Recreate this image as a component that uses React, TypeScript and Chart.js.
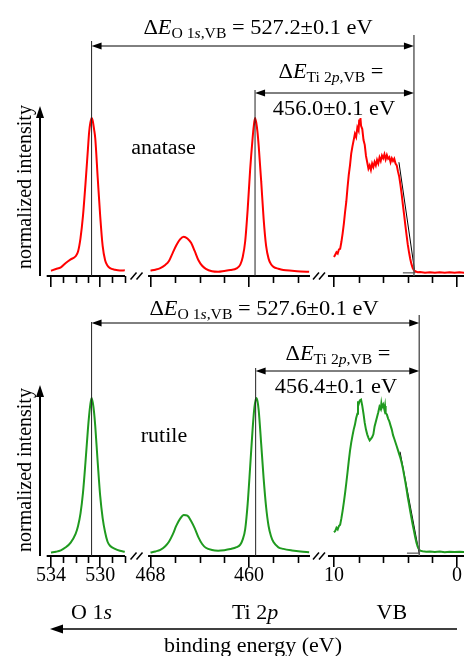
import React, { useEffect, useRef } from 'react';
import { Chart, registerables } from 'chart.js';
Chart.register(...registerables);

const SERIF = '"Liberation Serif", "Times New Roman", serif';

// ---------- data: anatase (top) ----------
const O1S_E_ANATASE = [534.0, 533.6, 533.2, 532.8, 532.4, 532.0, 531.8, 531.6, 531.4, 531.2, 531.0, 530.9, 530.8, 530.7, 530.6, 530.5, 530.4, 530.2, 530.0, 529.8, 529.6, 529.4, 529.2, 528.8, 528.4, 528.0];
const O1S_I_ANATASE = [0.033, 0.044, 0.055, 0.082, 0.105, 0.125, 0.155, 0.24, 0.38, 0.58, 0.80, 0.91, 0.97, 1.0, 0.98, 0.93, 0.87, 0.62, 0.38, 0.19, 0.10, 0.065, 0.05, 0.04, 0.035, 0.036];

const TI_E_ANATASE = [468.0, 467.6, 467.2, 466.8, 466.5, 466.2, 465.9, 465.6, 465.3, 465.0, 464.7, 464.4, 464.1, 463.8, 463.5, 463.0, 462.5, 462.0, 461.5, 461.0, 460.7, 460.5, 460.3, 460.1, 459.9, 459.7, 459.6, 459.5, 459.4, 459.3, 459.2, 459.0, 458.8, 458.6, 458.4, 458.2, 458.0, 457.6, 457.2, 456.5, 455.8, 455.1];
const TI_I_ANATASE = [0.034, 0.04, 0.05, 0.07, 0.095, 0.145, 0.195, 0.232, 0.249, 0.238, 0.21, 0.157, 0.10, 0.065, 0.045, 0.03, 0.027, 0.032, 0.038, 0.048, 0.072, 0.12, 0.22, 0.42, 0.67, 0.87, 0.95, 1.0, 0.97, 0.91, 0.82, 0.60, 0.36, 0.19, 0.11, 0.075, 0.058, 0.046, 0.038, 0.033, 0.029, 0.027];

const VB_E_ANATASE = [10.0, 9.9, 9.8, 9.7, 9.6, 9.5, 9.4, 9.3, 9.2, 9.1, 9.0, 8.9, 8.8, 8.7, 8.6, 8.5, 8.4, 8.3, 8.2, 8.1, 8.0, 7.95, 7.9, 7.85, 7.8, 7.7, 7.6, 7.5, 7.4, 7.3, 7.2, 7.1, 7.0, 6.9, 6.8, 6.7, 6.6, 6.5, 6.4, 6.3, 6.2, 6.1, 6.0, 5.9, 5.8, 5.7, 5.6, 5.5, 5.4, 5.3, 5.2, 5.1, 5.0, 4.9, 4.8, 4.7, 4.6, 4.5, 4.4, 4.3, 4.2, 4.1, 4.0, 3.9, 3.8, 3.7, 3.6, 3.5, 3.4, 3.2, 3.0, 2.6, 2.2, 1.8, 1.4, 1.0, 0.6, 0.2, -0.2, -0.6];
const VB_I_ANATASE = [0.120, 0.135, 0.150, 0.142, 0.168, 0.172, 0.215, 0.268, 0.330, 0.405, 0.470, 0.560, 0.640, 0.700, 0.775, 0.820, 0.860, 0.900, 0.880, 0.940, 0.920, 0.990, 0.960, 1.0, 0.950, 0.930, 0.860, 0.830, 0.760, 0.720, 0.680, 0.700, 0.672, 0.712, 0.690, 0.722, 0.700, 0.735, 0.712, 0.750, 0.728, 0.762, 0.745, 0.770, 0.738, 0.765, 0.742, 0.752, 0.720, 0.745, 0.728, 0.742, 0.712, 0.700, 0.662, 0.630, 0.578, 0.520, 0.452, 0.388, 0.322, 0.258, 0.198, 0.150, 0.108, 0.075, 0.050, 0.036, 0.030, 0.024, 0.026, 0.021, 0.024, 0.020, 0.023, 0.021, 0.024, 0.020, 0.023, 0.021];

const FIT_E_ANATASE = [4.72, 3.42];
const FIT_I_ANATASE = [0.72, 0.02];
const BASE_E_ANATASE = [4.4, 3.4];
const BASE_I_ANATASE = [0.02, 0.02];

// ---------- data: rutile (bottom) ----------
const O1S_E_RUTILE = [534.0, 533.6, 533.2, 532.8, 532.4, 532.0, 531.8, 531.6, 531.4, 531.2, 531.0, 530.9, 530.8, 530.7, 530.6, 530.5, 530.4, 530.2, 530.0, 529.8, 529.6, 529.4, 529.2, 528.8, 528.4, 528.0];
const O1S_I_RUTILE = [0.022, 0.027, 0.036, 0.055, 0.085, 0.14, 0.19, 0.27, 0.40, 0.59, 0.80, 0.89, 0.96, 1.0, 0.97, 0.91, 0.82, 0.59, 0.38, 0.24, 0.15, 0.09, 0.065, 0.045, 0.033, 0.027];

const TI_E_RUTILE = [468.0, 467.6, 467.2, 466.8, 466.5, 466.2, 465.9, 465.6, 465.3, 465.0, 464.7, 464.4, 464.1, 463.8, 463.5, 463.0, 462.5, 462.0, 461.5, 461.0, 460.7, 460.5, 460.3, 460.1, 459.9, 459.7, 459.55, 459.4, 459.3, 459.2, 459.0, 458.8, 458.6, 458.4, 458.2, 458.0, 457.6, 457.2, 456.5, 455.8, 455.1];
const TI_I_RUTILE = [0.022, 0.029, 0.039, 0.062, 0.09, 0.135, 0.192, 0.235, 0.26, 0.255, 0.222, 0.175, 0.118, 0.076, 0.052, 0.038, 0.034, 0.037, 0.044, 0.056, 0.072, 0.105, 0.17, 0.33, 0.56, 0.80, 0.94, 1.0, 0.98, 0.92, 0.71, 0.49, 0.31, 0.19, 0.125, 0.088, 0.055, 0.045, 0.035, 0.028, 0.024];

const VB_E_RUTILE = [10.0, 9.9, 9.8, 9.7, 9.6, 9.5, 9.4, 9.3, 9.2, 9.1, 9.0, 8.9, 8.8, 8.7, 8.6, 8.5, 8.4, 8.3, 8.2, 8.1, 8.05, 8.0, 7.9, 7.8, 7.7, 7.6, 7.5, 7.4, 7.3, 7.2, 7.1, 7.0, 6.9, 6.8, 6.7, 6.6, 6.5, 6.4, 6.3, 6.2, 6.15, 6.1, 6.0, 5.9, 5.85, 5.8, 5.7, 5.6, 5.5, 5.4, 5.3, 5.2, 5.1, 5.0, 4.9, 4.8, 4.7, 4.6, 4.5, 4.4, 4.3, 4.2, 4.1, 4.0, 3.9, 3.8, 3.7, 3.6, 3.5, 3.4, 3.3, 3.2, 3.1, 3.0, 2.8, 2.5, 2.2, 1.8, 1.4, 1.0, 0.6, 0.2, -0.2, -0.6];
const VB_I_RUTILE = [0.150, 0.158, 0.178, 0.168, 0.190, 0.198, 0.238, 0.285, 0.340, 0.398, 0.462, 0.530, 0.600, 0.665, 0.718, 0.760, 0.800, 0.830, 0.872, 0.900, 0.980, 0.960, 0.985, 0.990, 0.950, 0.900, 0.842, 0.800, 0.770, 0.748, 0.732, 0.742, 0.752, 0.770, 0.820, 0.850, 0.880, 0.910, 0.945, 0.930, 0.965, 0.940, 0.958, 0.925, 0.950, 0.905, 0.895, 0.870, 0.852, 0.825, 0.800, 0.765, 0.742, 0.718, 0.695, 0.670, 0.645, 0.620, 0.590, 0.555, 0.512, 0.470, 0.422, 0.372, 0.328, 0.282, 0.240, 0.198, 0.160, 0.120, 0.085, 0.060, 0.044, 0.034, 0.030, 0.027, 0.029, 0.025, 0.028, 0.024, 0.027, 0.025, 0.027, 0.025];

const FIT_E_RUTILE = [4.63, 3.08];
const FIT_I_RUTILE = [0.66, 0.02];
const BASE_E_RUTILE = [4.07, 3.0];
const BASE_I_RUTILE = [0.018, 0.018];

// ---------- reference energies / annotations ----------
const SAMPLES = ['anatase', 'rutile'];
const O1S_PEAK = [530.7, 530.7];
const TI_PEAK = [459.5, 459.45];
const VB_MAX = [3.5, 3.07];
const DELTA_O1S_VB = [527.2, 527.6];
const DELTA_TI_VB = [456.0, 456.4];
const DELTA_ERR = 0.1;

// ---------- broken x axis (binding energy, eV) ----------
const SEG_O = { ref: 534, offset: 0, hi: 534.35, lo: 527.98 };
const SEG_TI = { ref: 468, offset: 8.09, hi: 468.2, lo: 455.03 };
const SEG_VB = { ref: 10, offset: 23.01, hi: 10.49, lo: -0.6 };
const toV = (seg: any, e: number) => seg.offset + (seg.ref - e);

const O1S_MAJOR = [534, 530];
const O1S_MINOR = [533, 532, 531, 529, 528];
const TI_MAJOR = [468, 460];
const TI_MINOR = [466, 464, 462, 458, 456];
const VB_MAJOR = [10, 0];
const VB_MINOR = [8, 6, 4, 2];
const REGION_LABELS = [
  [{ t: 'O 1' }, { t: 's', it: true }],
  [{ t: 'Ti 2' }, { t: 'p', it: true }],
  [{ t: 'VB' }],
];
const REGION_LABEL_E = [530.7, 459.5, 5.3];

const V_MIN = -0.894;
const V_MAX = 33.58;

const MAJOR_TICKS = [
  ...O1S_MAJOR.map((e) => ({ v: toV(SEG_O, e), label: String(e) })),
  ...TI_MAJOR.map((e) => ({ v: toV(SEG_TI, e), label: String(e) })),
  ...VB_MAJOR.map((e) => ({ v: toV(SEG_VB, e), label: String(e) })),
];
const MINOR_TICKS = [
  ...O1S_MINOR.map((e) => toV(SEG_O, e)),
  ...TI_MINOR.map((e) => toV(SEG_TI, e)),
  ...VB_MINOR.map((e) => toV(SEG_VB, e)),
];

type Run = { t: string; it?: boolean; sub?: boolean };

function drawRuns(ctx: CanvasRenderingContext2D, runs: Run[], cx: number, baseline: number, size: number, sx: number) {
  const fontFor = (r: Run) => `${r.it ? 'italic ' : ''}${r.sub ? Math.round(size * 0.7) : size}px ${SERIF}`;
  let w = 0;
  for (const r of runs) {
    ctx.font = fontFor(r);
    w += ctx.measureText(r.t).width;
  }
  ctx.save();
  ctx.translate(cx, baseline);
  ctx.scale(sx, 1);
  ctx.textAlign = 'left';
  ctx.textBaseline = 'alphabetic';
  ctx.fillStyle = '#000';
  let x = -w / 2;
  for (const r of runs) {
    ctx.font = fontFor(r);
    ctx.fillText(r.t, x, r.sub ? size * 0.22 : 0);
    x += ctx.measureText(r.t).width;
  }
  ctx.restore();
}

function hArrow(ctx: CanvasRenderingContext2D, x1: number, x2: number, y: number, head: number, half: number, lw: number, left: boolean, right: boolean) {
  ctx.save();
  ctx.strokeStyle = '#000';
  ctx.fillStyle = '#000';
  ctx.lineWidth = lw;
  ctx.beginPath();
  ctx.moveTo(x1 + (left ? head * 0.6 : 0), y);
  ctx.lineTo(x2 - (right ? head * 0.6 : 0), y);
  ctx.stroke();
  if (left) {
    ctx.beginPath();
    ctx.moveTo(x1, y);
    ctx.lineTo(x1 + head, y - half);
    ctx.lineTo(x1 + head, y + half);
    ctx.closePath();
    ctx.fill();
  }
  if (right) {
    ctx.beginPath();
    ctx.moveTo(x2, y);
    ctx.lineTo(x2 - head, y - half);
    ctx.lineTo(x2 - head, y + half);
    ctx.closePath();
    ctx.fill();
  }
  ctx.restore();
}

function vLine(ctx: CanvasRenderingContext2D, x: number, y1: number, y2: number, color: string, lw: number) {
  ctx.save();
  ctx.strokeStyle = color;
  ctx.lineWidth = lw;
  ctx.beginPath();
  ctx.moveTo(x, y1);
  ctx.lineTo(x, y2);
  ctx.stroke();
  ctx.restore();
}

const PANEL_TOP = {
  idx: 0, color: '#ff0000', height: 290, padTop: 118, axisH: 14, showLabels: false,
  o: [O1S_E_ANATASE, O1S_I_ANATASE], ti: [TI_E_ANATASE, TI_I_ANATASE], vb: [VB_E_ANATASE, VB_I_ANATASE],
  fit: [FIT_E_ANATASE, FIT_I_ANATASE], base: [BASE_E_ANATASE, BASE_I_ANATASE],
  pos: { titleY: 34, titleX: 258, arrow1Y: 46, tiLabelY: 78, tiLabelX: 331, arrow2Y: 93, tiValY: 115, tiValX: 334,
    sampleX: 163.5, sampleY: 154, yArrowTop: 106, yLabelY: 187, oLineTop: 41, tiLineTop: 90, vbLineTop: 35 },
  footer: null as any,
};

const PANEL_BOTTOM = {
  idx: 1, color: '#1f9a1f', height: 366, padTop: 108, axisH: 100, showLabels: true,
  o: [O1S_E_RUTILE, O1S_I_RUTILE], ti: [TI_E_RUTILE, TI_I_RUTILE], vb: [VB_E_RUTILE, VB_I_RUTILE],
  fit: [FIT_E_RUTILE, FIT_I_RUTILE], base: [BASE_E_RUTILE, BASE_I_RUTILE],
  pos: { titleY: 25, titleX: 264, arrow1Y: 33, tiLabelY: 70, tiLabelX: 338, arrow2Y: 81, tiValY: 103, tiValX: 336,
    sampleX: 164, sampleY: 152, yArrowTop: 95, yLabelY: 180, oLineTop: 32, tiLineTop: 78, vbLineTop: 25 },
  footer: { labelsY: 329, arrowY: 339, arrowX1: 50, arrowX2: 457, titleY: 362, titleX: 253 },
};

function pts(seg: any, es: number[], is: number[]) {
  return es.map((e, i) => ({ x: toV(seg, e), y: is[i] }));
}

function buildConfig(p: any): any {
  const k = p.idx;
  const deco = {
    id: 'deco' + k,
    afterDraw(chart: any) {
      const ctx: CanvasRenderingContext2D = chart.ctx;
      const xs = chart.scales.x;
      const area = chart.chartArea;
      const ax = area.bottom;
      const px = (seg: any, e: number) => xs.getPixelForValue(toV(seg, e));
      const P = p.pos;
      ctx.save();
      // broken axis line
      ctx.strokeStyle = '#000';
      ctx.lineWidth = 2;
      for (const seg of [SEG_O, SEG_TI, SEG_VB]) {
        ctx.beginPath();
        ctx.moveTo(px(seg, seg.hi), ax);
        ctx.lineTo(px(seg, seg.lo), ax);
        ctx.stroke();
      }
      // minor ticks
      ctx.lineWidth = 1.6;
      for (const v of MINOR_TICKS) {
        const x = Math.round(xs.getPixelForValue(v)) + 0.5;
        ctx.beginPath();
        ctx.moveTo(x, ax);
        ctx.lineTo(x, ax + 7);
        ctx.stroke();
      }
      // break marks
      const breaks = [
        (px(SEG_O, SEG_O.lo) + px(SEG_TI, SEG_TI.hi)) / 2,
        (px(SEG_TI, SEG_TI.lo) + px(SEG_VB, SEG_VB.hi)) / 2,
      ];
      ctx.lineWidth = 1.5;
      for (const bx of breaks) {
        for (const d of [-3, 3]) {
          ctx.beginPath();
          ctx.moveTo(bx + d - 3, ax + 3.5);
          ctx.lineTo(bx + d + 3, ax - 3.5);
          ctx.stroke();
        }
      }
      // vertical reference lines
      const xO = px(SEG_O, O1S_PEAK[k]);
      const xT = px(SEG_TI, TI_PEAK[k]);
      const xV = px(SEG_VB, VB_MAX[k]);
      vLine(ctx, xO, P.oLineTop, ax, '#222', 1);
      vLine(ctx, xT, P.tiLineTop, ax, '#222', 1);
      vLine(ctx, xV, P.vbLineTop, ax, '#555', 1.4);
      // arrows
      hArrow(ctx, xO, xV, P.arrow1Y, 10, 3.5, 1, true, true);
      hArrow(ctx, xT, xV, P.arrow2Y, 10, 3.5, 1, true, true);
      // texts
      drawRuns(ctx, [{ t: 'Δ' }, { t: 'E', it: true }, { t: 'O 1', sub: true }, { t: 's', sub: true, it: true }, { t: ',VB', sub: true },
        { t: ` = ${DELTA_O1S_VB[k].toFixed(1)}±${DELTA_ERR} eV` }], P.titleX, P.titleY, 20, 1.12);
      drawRuns(ctx, [{ t: 'Δ' }, { t: 'E', it: true }, { t: 'Ti 2', sub: true }, { t: 'p', sub: true, it: true }, { t: ',VB', sub: true },
        { t: ' =' }], P.tiLabelX, P.tiLabelY, 20, 1.12);
      drawRuns(ctx, [{ t: `${DELTA_TI_VB[k].toFixed(1)}±${DELTA_ERR} eV` }], P.tiValX, P.tiValY, 20, 1.12);
      drawRuns(ctx, [{ t: SAMPLES[k] }], P.sampleX, P.sampleY, 20, 1.1);
      // y axis arrow
      const yx = area.left;
      ctx.strokeStyle = '#000';
      ctx.fillStyle = '#000';
      ctx.lineWidth = 2;
      ctx.beginPath();
      ctx.moveTo(yx, ax);
      ctx.lineTo(yx, P.yArrowTop + 8);
      ctx.stroke();
      ctx.beginPath();
      ctx.moveTo(yx, P.yArrowTop);
      ctx.lineTo(yx - 4, P.yArrowTop + 12);
      ctx.lineTo(yx + 4, P.yArrowTop + 12);
      ctx.closePath();
      ctx.fill();
      // y label
      ctx.save();
      ctx.translate(31, P.yLabelY);
      ctx.rotate(-Math.PI / 2);
      ctx.scale(1, 1.1);
      ctx.font = `20px ${SERIF}`;
      ctx.textAlign = 'center';
      ctx.textBaseline = 'alphabetic';
      ctx.fillText('normalized intensity', 0, 0);
      ctx.restore();
      // footer
      if (p.footer) {
        const F = p.footer;
        const segs = [SEG_O, SEG_TI, SEG_VB];
        REGION_LABELS.forEach((runs, i) => {
          drawRuns(ctx, runs as Run[], px(segs[i], REGION_LABEL_E[i]), F.labelsY, 20, 1.1);
        });
        hArrow(ctx, F.arrowX1, F.arrowX2, F.arrowY, 13, 4.5, 1.6, true, false);
        drawRuns(ctx, [{ t: 'binding energy (eV)' }], F.titleX, F.titleY, 20, 1.1);
      }
      ctx.restore();
    },
  };

  const line = (data: any, color: string, width: number, tension: number) => ({
    data, borderColor: color, borderWidth: width, pointRadius: 0, tension,
    cubicInterpolationMode: tension > 0 ? 'monotone' : 'default', fill: false, clip: false,
  });

  return {
    type: 'line',
    data: {
      datasets: [
        line(pts(SEG_O, p.o[0], p.o[1]), p.color, 2, 0.4),
        line(pts(SEG_TI, p.ti[0], p.ti[1]), p.color, 2, 0.4),
        line(pts(SEG_VB, p.vb[0], p.vb[1]), p.color, 2, 0),
        line(pts(SEG_VB, p.fit[0], p.fit[1]), '#000', 1, 0),
        line(pts(SEG_VB, p.base[0], p.base[1]), '#555', 1.2, 0),
      ],
    },
    options: {
      responsive: false,
      animation: false,
      devicePixelRatio: 1,
      events: [],
      layout: { padding: { top: p.padTop, left: 40, right: 0, bottom: 0 } },
      plugins: { legend: { display: false }, tooltip: { enabled: false }, title: { display: false } },
      scales: {
        x: {
          type: 'linear',
          min: V_MIN,
          max: V_MAX,
          border: { display: false },
          grid: { display: true, drawOnChartArea: false, drawTicks: true, tickLength: 11, color: '#000', lineWidth: 1.6 },
          ticks: {
            display: p.showLabels,
            autoSkip: false,
            maxRotation: 0,
            minRotation: 0,
            padding: -1,
            color: '#000',
            font: { family: SERIF, size: 20, lineHeight: 1 },
            callback: (value: number) => {
              const t = MAJOR_TICKS.find((m) => Math.abs(m.v - value) < 1e-6);
              return t ? t.label : '';
            },
          },
          afterBuildTicks: (scale: any) => {
            scale.ticks = MAJOR_TICKS.map((m) => ({ value: m.v }));
          },
          afterFit: (scale: any) => {
            scale.height = p.axisH;
            scale.paddingLeft = 0;
            scale.paddingRight = 0;
          },
        },
        y: { display: false, min: 0, max: 1 },
      },
    },
    plugins: [deco],
  };
}

export default function App() {
  const topRef = useRef<HTMLCanvasElement>(null);
  const botRef = useRef<HTMLCanvasElement>(null);
  useEffect(() => {
    const c1 = new Chart(topRef.current as HTMLCanvasElement, buildConfig(PANEL_TOP));
    const c2 = new Chart(botRef.current as HTMLCanvasElement, buildConfig(PANEL_BOTTOM));
    return () => {
      c1.destroy();
      c2.destroy();
    };
  }, []);
  return (
    <div style={{ position: 'absolute', left: 0, top: 0, width: 464, height: 656, background: '#fff', overflow: 'hidden' }}>
      <canvas ref={topRef} width={464} height={290} style={{ position: 'absolute', left: 0, top: 0, width: 464, height: 290 }} />
      <canvas ref={botRef} width={464} height={366} style={{ position: 'absolute', left: 0, top: 290, width: 464, height: 366 }} />
    </div>
  );
}
